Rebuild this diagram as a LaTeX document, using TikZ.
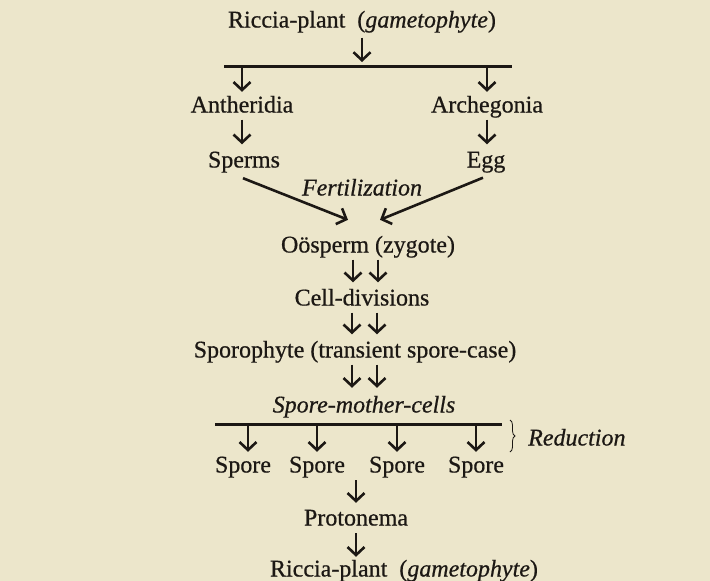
\documentclass[tikz,border=0pt]{standalone}
\usepackage{fontspec}
\setmainfont{Liberation Serif}[FakeBold=0.6]
\usetikzlibrary{arrows.meta,decorations.pathreplacing}
\definecolor{paper}{RGB}{236,230,203}
\definecolor{ink}{RGB}{28,24,20}
\begin{document}
\begin{tikzpicture}[x=1pt,y=-1pt,
  lbl/.style={inner sep=0pt,text height=16pt,text depth=5pt,font=\fontsize{24}{28}\selectfont,text=ink},
  arr/.style={draw=ink,line width=2.6pt,-{Straight Barb[length=8pt,width=17pt,line width=2.6pt]},shorten <=2pt,shorten >=7pt},
  barline/.style={draw=ink,line width=3pt},
  bracestyle/.style={draw=ink,line width=0.8pt,decorate,decoration={brace,amplitude=5pt}}]
\fill[paper] (0,0) rectangle (710,581);
\useasboundingbox (0,0) rectangle (710,581);
% nodes
\node[lbl] (top) at (362,22) {Riccia-plant\ \ (\textit{gametophyte})};
\coordinate (bl) at (224,66);
\coordinate (br) at (512,66);
\node[lbl] (anth) at (242,107) {Antheridia};
\node[lbl] (arch) at (487,107) {Archegonia};
\node[lbl] (sperm) at (244,162) {Sperms};
\node[lbl] (egg) at (486,162) {Egg};
\node[lbl] (fert) at (362,190) {\textit{Fertilization}};
\node[lbl] (oo) at (368,247) {Oösperm (zygote)};
\node[lbl] (cd) at (362,300) {Cell-divisions};
\node[lbl] (spph) at (355,352) {Sporophyte (transient spore-case)};
\node[lbl] (smc) at (364,407) {\textit{Spore-mother-cells}};
\coordinate (sbl) at (215,424);
\coordinate (sbr) at (502,424);
\node[lbl] (s1) at (243,467) {Spore};
\node[lbl] (s2) at (317,467) {Spore};
\node[lbl] (s3) at (397,467) {Spore};
\node[lbl] (s4) at (476,467) {Spore};
\node[lbl] (proto) at (356,520) {Protonema};
\node[lbl] (bot) at (404,571) {Riccia-plant\ \ (\textit{gametophyte})};
\coordinate (bt) at (510,420);
\coordinate (bb) at (510,452);
\node[lbl,anchor=west] (red) at (528,440) {\textit{Reduction}};
% connectors
\draw[barline] (bl) -- (br);
\draw[arr,shorten <=5pt,shorten >=4pt] (top.south) -- (top.south |- bl);
\draw[arr,shorten <=0pt,shorten >=4.5pt] (anth.north |- bl) -- (anth.north);
\draw[arr,shorten <=0pt,shorten >=4.5pt] (arch.north |- bl) -- (arch.north);
\draw[arr] (anth.south) -- (anth.south |- sperm.north);
\draw[arr] (arch.south) -- (arch.south |- egg.north);
\draw[arr,shorten <=0pt,shorten >=0pt] ([xshift=-1pt,yshift=-5.5pt]sperm.south) -- ([xshift=-20pt,yshift=16.5pt]oo.north);
\draw[arr,shorten <=0pt,shorten >=0pt] ([xshift=-3pt,yshift=-5pt]egg.south) -- ([xshift=12pt,yshift=16.5pt]oo.north);
\draw[arr] (353,0 |- oo.south) -- (353,0 |- cd.north);
\draw[arr] (378,0 |- oo.south) -- (378,0 |- cd.north);
\draw[arr] (352,0 |- cd.south) -- (352,0 |- spph.north);
\draw[arr] (377,0 |- cd.south) -- (377,0 |- spph.north);
\draw[arr,shorten >=8.5pt] (352,0 |- spph.south) -- (352,0 |- smc.north);
\draw[arr,shorten >=8.5pt] (377,0 |- spph.south) -- (377,0 |- smc.north);
\draw[barline] (sbl) -- (sbr);
\draw[arr,shorten <=0pt,shorten >=4.5pt] ([xshift=5pt]s1.north |- sbl) -- ([xshift=5pt]s1.north);
\draw[arr,shorten <=0pt,shorten >=4.5pt] (s2.north |- sbl) -- (s2.north);
\draw[arr,shorten <=0pt,shorten >=4.5pt] (s3.north |- sbl) -- (s3.north);
\draw[arr,shorten <=0pt,shorten >=4.5pt] (s4.north |- sbl) -- (s4.north);
\draw[bracestyle] (bt) -- (bb);
\draw[arr,shorten <=2.5pt,shorten >=6.5pt] (proto.north |- s2.south) -- (proto.north);
\draw[arr,shorten <=2.5pt,shorten >=3.5pt] (proto.south) -- (proto.south |- bot.north);
\end{tikzpicture}
\end{document}
